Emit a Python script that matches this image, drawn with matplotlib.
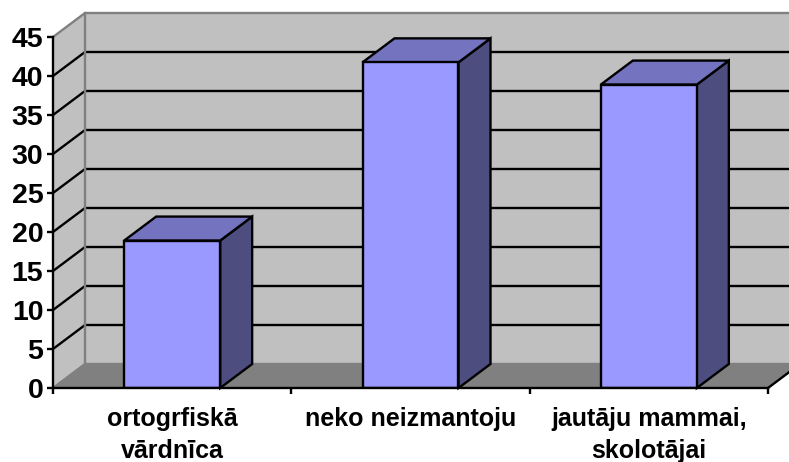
import matplotlib
matplotlib.use('Agg')
import matplotlib.pyplot as plt
from matplotlib.patches import Polygon

plt.rcParams['font.family'] = ['Liberation Sans', 'DejaVu Sans']

categories = ['ortogrfiskā\nvārdnīca', 'neko neizmantoju', 'jautāju mammai,\nskolotājai']
values = [18.9, 41.75, 38.9]
y_ticks = [0, 5, 10, 15, 20, 25, 30, 35, 40, 45]

W, H = 789, 462
fig = plt.figure(figsize=(W / 100, H / 100), dpi=100)
ax = fig.add_axes([53 / W, (H - 388) / H, 715 / W, 351 / H])
ax.set_xlim(0, 3)
ax.set_ylim(0, 45)
ax.patch.set_visible(False)

# depth of the fake 3d box, pixels turned into data units
dx = 32 / (715 / 3)
dy = 24 / (351 / 45)
bar_w = 96 / (715 / 3)
lw = 1.7


def poly(pts, fc, ec='none', z=1):
    ax.add_patch(Polygon(pts, closed=True, facecolor=fc, edgecolor=ec, linewidth=lw,
                         clip_on=False, zorder=z, joinstyle='miter'))


# walls and floor
poly([(dx, dy), (3 + dx, dy), (3 + dx, 45 + dy), (dx, 45 + dy)], '#c0c0c0')
poly([(0, 0), (dx, dy), (dx, 45 + dy), (0, 45)], '#c0c0c0')
poly([(0, 0), (3, 0), (3 + dx, dy), (dx, dy)], '#808080')

# gridlines
for t in y_ticks[1:-1]:
    ax.plot([0, dx, 3 + dx], [t, t + dy, t + dy], color='black', lw=lw, clip_on=False,
            zorder=2, solid_joinstyle='miter')

# wall edges
ax.plot([0, dx, 3 + dx], [45, 45 + dy, 45 + dy], color='#808080', lw=lw, clip_on=False, zorder=2)
ax.plot([dx, dx], [dy, 45 + dy], color='#808080', lw=lw, clip_on=False, zorder=2)
ax.plot([0, dx, 3 + dx], [0, dy, dy], color='#808080', lw=lw, clip_on=False, zorder=2)
ax.plot([3, 3 + dx], [0, dy], color='black', lw=lw, clip_on=False, zorder=2)

# bars
for i, v in enumerate(values):
    x0 = i + 0.5 - bar_w / 2
    x1 = i + 0.5 + bar_w / 2
    poly([(x1, 0), (x1 + dx, dy), (x1 + dx, v + dy), (x1, v)], '#4d4d80', 'black', 3)
    poly([(x0, v), (x1, v), (x1 + dx, v + dy), (x0 + dx, v + dy)], '#7373bf', 'black', 3)
    ax.bar(i + 0.5, v, width=bar_w, color='#9999ff', edgecolor='black', linewidth=lw, zorder=4)

# axes
for s in ['top', 'right']:
    ax.spines[s].set_visible(False)
for s in ['left', 'bottom']:
    ax.spines[s].set_linewidth(lw)
    ax.spines[s].set_zorder(5)
ax.set_yticks(y_ticks)
ax.set_xticks([0, 1, 2, 3])
ax.set_xticklabels([])
ax.tick_params(axis='both', length=4.5, width=lw, color='black')
ax.tick_params(axis='y', labelsize=20.5, pad=2.5)
for lb in ax.get_yticklabels():
    lb.set_fontweight('bold')

# category labels
for i, c in enumerate(categories):
    ax.annotate(c, xy=(i + 0.5, 0), xytext=(0, -14), textcoords='offset points',
                ha='center', va='top', fontsize=18, fontweight='bold', linespacing=1.4,
                annotation_clip=False)

fig.savefig('out.png', dpi=100)
